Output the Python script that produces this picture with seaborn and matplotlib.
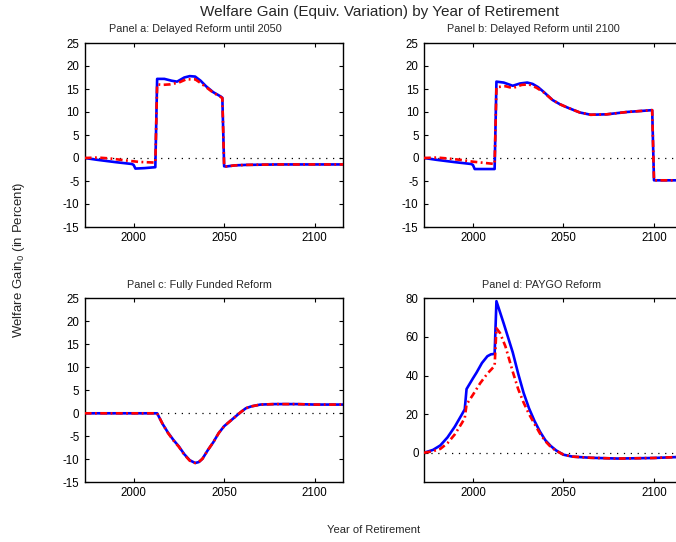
import numpy as np
import pandas as pd
import matplotlib
matplotlib.use("Agg")
import matplotlib.pyplot as plt
import seaborn as sns

# ---------------- data ----------------
zero_level = 0

# Panel a: Delayed Reform until 2050
a_blue_years = [1973, 1980, 1990, 1999, 2000, 2001, 2006, 2012, 2013, 2017, 2021, 2024,
                2028, 2031, 2034, 2037, 2040, 2044, 2048, 2049, 2050, 2051, 2056, 2062,
                2080, 2100, 2116]
a_blue_vals = [0, -0.4, -0.9, -1.3, -1.5, -2.3, -2.2, -2.0, 17.2, 17.2, 16.8, 16.6,
               17.5, 17.8, 17.7, 16.8, 15.6, 14.3, 13.4, 13.1, -1.8, -1.85, -1.6, -1.5,
               -1.4, -1.4, -1.4]
a_red_years = [1973, 1980, 1987, 1995, 2003, 2012, 2013, 2016, 2020, 2025, 2029, 2034,
               2037, 2040, 2044, 2048, 2049, 2050, 2051, 2056, 2062, 2080, 2100, 2116]
a_red_vals = [0, 0.1, -0.1, -0.5, -0.85, -1.0, 16.0, 15.9, 16.0, 16.4, 17.1, 17.1,
              16.3, 15.4, 14.2, 13.3, 13.0, -1.8, -1.85, -1.6, -1.5, -1.4, -1.4, -1.4]

# Panel b: Delayed Reform until 2100
b_blue_years = [1973, 1980, 1990, 1999, 2000, 2001, 2006, 2012, 2013, 2017, 2022, 2026,
                2030, 2033, 2036, 2039, 2044, 2048, 2052, 2059, 2065, 2074, 2085, 2092,
                2099, 2100, 2116]
b_blue_vals = [0, -0.4, -0.9, -1.3, -1.5, -2.4, -2.4, -2.4, 16.6, 16.4, 15.7, 16.2,
               16.4, 16.1, 15.4, 14.4, 12.6, 11.7, 11.0, 9.9, 9.4, 9.5, 10.0, 10.2,
               10.4, -4.85, -4.85]
b_red_years = [1973, 1980, 1986, 1993, 2000, 2012, 2013, 2018, 2022, 2027, 2031, 2035,
               2039, 2044, 2048, 2052, 2059, 2065, 2074, 2085, 2092, 2099, 2100, 2116]
b_red_vals = [0, 0.1, -0.1, -0.4, -0.8, -1.3, 15.4, 15.6, 15.2, 15.9, 16.0, 15.3,
              14.3, 12.6, 11.7, 11.0, 9.9, 9.4, 9.5, 10.0, 10.2, 10.4, -4.85, -4.85]

# Panel c: Fully Funded Reform
c_years = [1973, 2013, 2016, 2019, 2022, 2025, 2028, 2031, 2034, 2036, 2038, 2041,
           2044, 2047, 2050, 2053, 2056, 2059, 2062, 2065, 2070, 2078, 2090, 2100, 2116]
c_blue_vals = [0, 0, -2.3, -4.2, -5.8, -7.2, -8.9, -10.2, -10.8, -10.6, -9.9, -8.0,
               -6.3, -4.3, -2.8, -1.8, -0.8, 0.2, 1.1, 1.5, 1.9, 2.0, 2.0, 1.9, 1.9]
c_red_vals = [0, 0, -2.3, -4.3, -5.9, -7.3, -9.0, -10.3, -10.8, -10.6, -9.9, -8.0,
              -6.3, -4.3, -2.8, -1.8, -0.8, 0.2, 1.1, 1.5, 1.9, 2.0, 2.0, 1.9, 1.9]

# Panel d: PAYGO Reform
d_blue_years = [1973, 1978, 1982, 1986, 1990, 1994, 1995.5, 1996.5, 2000, 2002, 2005,
                2008, 2010, 2012, 2013, 2017, 2022, 2025, 2028, 2031, 2034, 2037, 2040,
                2043, 2046, 2050, 2055, 2065, 2080, 2100, 2116]
d_blue_vals = [0, 1.5, 3.8, 8.0, 13.5, 20.0, 22.5, 33.0, 38.5, 41.5, 46.5, 50.0, 51.0,
               51.2, 78.5, 67.0, 52.0, 41.0, 31.0, 23.0, 16.5, 11.0, 6.5, 3.5, 1.2,
               -1.0, -2.0, -2.6, -3.0, -2.7, -2.1]
d_red_years = [1973, 1978, 1982, 1986, 1990, 1994, 1995.5, 1996.5, 2000, 2004, 2008,
               2011, 2012, 2013, 2015, 2018, 2022, 2025, 2028, 2031, 2034, 2037, 2040,
               2043, 2046, 2050, 2055, 2065, 2080, 2100, 2116]
d_red_vals = [0, 0.8, 2.0, 5.0, 9.5, 15.5, 18.0, 25.0, 30.0, 36.0, 41.0, 44.0, 45.0,
              64.5, 62.0, 55.0, 42.0, 33.0, 26.0, 20.0, 15.0, 10.0, 6.0, 3.0, 1.0,
              -1.0, -2.0, -2.6, -3.0, -2.7, -2.1]

panel_titles = ["Panel a: Delayed Reform until 2050", "Panel b: Delayed Reform until 2100",
                "Panel c: Fully Funded Reform", "Panel d: PAYGO Reform"]
main_title = "Welfare Gain (Equiv. Variation) by Year of Retirement"
y_label = "Welfare Gain$_0$ (in Percent)"
x_label = "Year of Retirement"
x_ticks = [2000, 2050, 2100]
y_ticks_top = [-15, -10, -5, 0, 5, 10, 15, 20, 25]
y_ticks_d = [0, 20, 40, 60, 80]

# ---------------- style ----------------
sns.set_style("ticks")
plt.rcParams['font.family'] = ['Liberation Sans', 'DejaVu Sans']
plt.rcParams['mathtext.fontset'] = 'custom'
plt.rcParams['mathtext.rm'] = 'Liberation Sans'
plt.rcParams['mathtext.it'] = 'Liberation Sans'
plt.rcParams['axes.unicode_minus'] = False

fig = plt.figure(figsize=(6.76, 5.42), dpi=100)
W, H = 676.0, 542.0

def pos(left, top, right, bottom):
    return [left / W, 1 - bottom / H, (right - left) / W, (bottom - top) / H]

axes_pos = [pos(84.7, 43, 343.3, 227), pos(424, 43, 682.6, 227),
            pos(84.7, 298.3, 343.3, 482.3), pos(424, 298.3, 682.6, 482.3)]

series = [
    (a_blue_years, a_blue_vals, a_red_years, a_red_vals),
    (b_blue_years, b_blue_vals, b_red_years, b_red_vals),
    (c_years, c_blue_vals, c_years, c_red_vals),
    (d_blue_years, d_blue_vals, d_red_years, d_red_vals),
]
title_x = [0.4265, 0.4215, 0.442, 0.456]
title_y = [1.076, 1.076, 1.072, 1.072]

for i, (p, (bx, by, rx, ry)) in enumerate(zip(axes_pos, series)):
    ax = fig.add_axes(p)
    ax.axhline(zero_level, color='black', lw=0.9, linestyle=(0, (1, 4.5)), zorder=1)
    sns.lineplot(x=bx, y=by, ax=ax, color='#0000ff', lw=1.9, zorder=2)
    sns.lineplot(x=rx, y=ry, ax=ax, color='#ff0000', lw=1.9,
                 linestyle=(0, (2.6, 1.3, 0.7, 1.3)), zorder=3)
    ax.set_xlim(1973, 2115.8)
    if i < 3:
        ax.set_ylim(-15, 25)
        ax.set_yticks(y_ticks_top)
    else:
        ax.set_ylim(-15.3, 80)
        ax.set_yticks(y_ticks_d)
    ax.set_xticks(x_ticks)
    ax.tick_params(direction='in', length=3, width=0.8, top=True, right=True,
                   labelsize=8.3, colors='black')
    ax.tick_params(axis='y', pad=3.9)
    ax.tick_params(axis='x', pad=3.5)
    for s in ax.spines.values():
        s.set_visible(True)
        s.set_linewidth(1.0)
        s.set_color('black')
    ax.set_xlabel("")
    ax.set_ylabel("")
    ax.text(title_x[i], title_y[i], panel_titles[i], transform=ax.transAxes,
            ha='center', va='center', fontsize=7.8)

fig.text(0.5607, 0.977, main_title, ha='center', va='center', fontsize=11)
fig.text(0.028, 0.52, y_label, ha='center', va='center', rotation=90, fontsize=9.5)
fig.text(0.553, 0.0221, x_label, ha='center', va='center', fontsize=8)

fig.savefig("out.png", dpi=100)
